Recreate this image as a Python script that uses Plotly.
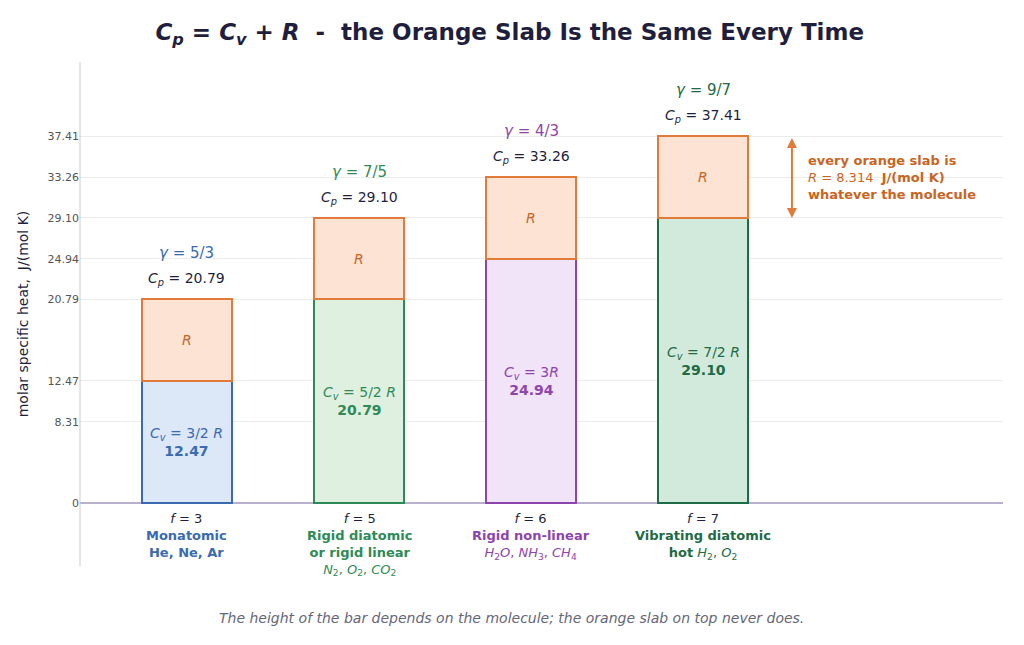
import plotly.graph_objects as go

xpos = [0, 1, 2, 3]
cv = [12.47, 20.79, 24.94, 29.10]
R = 8.314
cp = [20.79, 29.10, 33.26, 37.41]
f_vals = [3, 5, 6, 7]
gam_num = [5, 7, 4, 9]
gam_den = [3, 5, 3, 7]
cv_num = ["3", "5", None, "7"]
names = ["Monatomic<br>He, Ne, Ar", "Rigid diatomic<br>or rigid linear",
         "Rigid non-linear", "Vibrating diatomic"]
subs = ["", "<i>N</i><sub>2</sub>, <i>O</i><sub>2</sub>, <i>CO</i><sub>2</sub>",
        "<i>H</i><sub>2</sub><i>O</i>, <i>NH</i><sub>3</sub>, <i>CH</i><sub>4</sub>", ""]
tickvals = [0, 8.31, 12.47, 20.79, 24.94, 29.10, 33.26, 37.41]
ticktext = ["0", "8.31", "12.47", "20.79", "24.94", "29.10", "33.26", "37.41"]

line_c = ["#3a6ab0", "#2e8b57", "#8e44ad", "#1e6b45"]
fill_c = ["#dce8f7", "#e0f0e0", "#f1e4f8", "#d2eadc"]
orange, orange_fill, orange_txt = "#e07b39", "#fde3d3", "#c8651f"
navy = "#1f1f3d"

fig = go.Figure()
fig.add_bar(x=xpos, y=cv, width=0.523, marker=dict(color=fill_c, line=dict(color=line_c, width=2)),
            hoverinfo="skip")
fig.add_bar(x=xpos, y=[R]*4, width=0.523, marker=dict(color=orange_fill, line=dict(color=orange, width=2)),
            hoverinfo="skip")

for i in range(4):
    c = line_c[i]
    fig.add_annotation(x=xpos[i], y=cv[i] + R/2, text="<i>R</i>", showarrow=False,
                       font=dict(color=orange_txt, size=14))
    if cv_num[i]:
        cvt = f"<i>C<sub>v</sub></i> = {cv_num[i]}/2 <i>R</i>"
    else:
        cvt = "<i>C<sub>v</sub></i> = 3<i>R</i>"
    fig.add_annotation(x=xpos[i], y=cv[i]/2, text=cvt + f"<br><b>{cv[i]:.2f}</b>",
                       showarrow=False, font=dict(color=c, size=14))
    fig.add_annotation(x=xpos[i], y=cp[i], yshift=20, text=f"<i>C<sub>p</sub></i> = {cp[i]:.2f}",
                       showarrow=False, font=dict(color=navy, size=14))
    fig.add_annotation(x=xpos[i], y=cp[i], yshift=46, text=f"<i>γ</i> = {gam_num[i]}/{gam_den[i]}",
                       showarrow=False, font=dict(color=c, size=15))
    lab = f"<i>f</i> = {f_vals[i]}<br><b>{names[i]}</b>"
    if subs[i]:
        lab += "<br>" + subs[i]
    if i == 3:
        lab = f"<i>f</i> = 7<br><b>Vibrating diatomic</b><br><b>hot</b> <i>H</i><sub>2</sub>, <i>O</i><sub>2</sub>"
    fig.add_annotation(x=xpos[i], y=0, yshift=-6, yanchor="top", text=f"<span style='color:{navy}'>{lab.split('<br>',1)[0]}</span><br>" + lab.split('<br>',1)[1],
                       showarrow=False, font=dict(color=c, size=13))

fig.add_annotation(x=3.517, y=cv[3], ax=3.517, ay=cp[3], xref="x", yref="y", axref="x", ayref="y",
                   showarrow=True, arrowhead=2, arrowside="end+start", arrowcolor=orange, arrowwidth=2, text="")
fig.add_annotation(x=3.6, y=(cv[3]+cp[3])/2, xanchor="left", align="left", showarrow=False,
                   text="<b>every orange slab is</b><br><i>R</i> = 8.314  <b>J/(mol K)</b><br><b>whatever the molecule</b>",
                   font=dict(color=orange_txt, size=13))
fig.add_annotation(x=0.468, y=-0.103, xref="paper", yref="paper", yanchor="middle", showarrow=False,
                   text="<i>The height of the bar depends on the molecule; the orange slab on top never does.</i>",
                   font=dict(color="#666677", size=14))

fig.update_layout(
    width=1024, height=645, barmode="stack", showlegend=False,
    plot_bgcolor="white", paper_bgcolor="white",
    margin=dict(l=72, r=29, t=54, b=87),
    font=dict(family="DejaVu Sans"),
    title=dict(text="<b><i>C<sub>p</sub></i> = <i>C<sub>v</sub></i> + <i>R</i>  -  the Orange Slab Is the Same Every Time</b>",
               x=0.49, xanchor="center", y=0.963, yanchor="middle", font=dict(color=navy, size=23)),
    xaxis=dict(range=[-0.622, 4.744], showticklabels=False, showgrid=False, zeroline=False,
               showline=False, automargin=False),
    yaxis=dict(range=[-6.4, 45], tickvals=tickvals, ticktext=ticktext, gridcolor="#ececec",
               zeroline=True, zerolinecolor="#b8b0cc", zerolinewidth=1.5, automargin=False,
               showline=False, tickfont=dict(size=11, color="#555"),
               title=dict(text="molar specific heat,  J/(mol K)", font=dict(size=14, color=navy))),
)
fig.add_shape(type="line", xref="paper", yref="paper", x0=0, x1=0, y0=0, y1=1, line=dict(color="#cccccc", width=1))
fig.write_html("out.html")
